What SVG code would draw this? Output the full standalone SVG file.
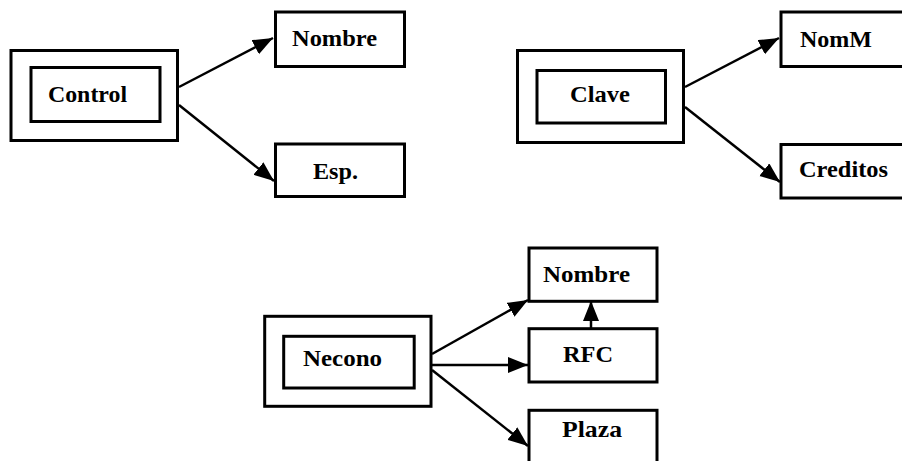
<svg xmlns="http://www.w3.org/2000/svg" width="902" height="461" viewBox="0 0 902 461">
<defs>
<style>
.box{fill:#fff;stroke:#000;stroke-width:3}
.ln{fill:none;stroke:#000;stroke-width:2.5}
.t{font-family:"Liberation Serif","Times New Roman",serif;font-size:24px;font-weight:bold;fill:#000}
</style>
<marker id="ah" markerUnits="userSpaceOnUse" markerWidth="22" markerHeight="18" refX="20" refY="8" orient="auto">
<path d="M0,0 L20,8 L0,16 z" fill="#000"/>
</marker>
</defs>
<rect width="902" height="461" fill="#fff"/>
<g id="connectors">
<line class="ln" x1="179" y1="87" x2="273" y2="38" marker-end="url(#ah)"/>
<line class="ln" x1="179" y1="105" x2="274" y2="181" marker-end="url(#ah)"/>
<line class="ln" x1="685" y1="87" x2="779" y2="38" marker-end="url(#ah)"/>
<line class="ln" x1="685" y1="107" x2="780" y2="182" marker-end="url(#ah)"/>
<line class="ln" x1="432" y1="354" x2="528" y2="300" marker-end="url(#ah)"/>
<line class="ln" x1="432" y1="365" x2="528" y2="365" marker-end="url(#ah)"/>
<line class="ln" x1="432" y1="370" x2="528" y2="446" marker-end="url(#ah)"/>
<line class="ln" x1="591" y1="328" x2="591" y2="301" marker-end="url(#ah)"/>
</g>
<g id="control">
<rect class="box" x="11" y="50.5" width="166.5" height="90"/>
<rect class="box" x="31" y="67.5" width="129" height="54"/>
<text class="t" x="48" y="102" textLength="79" lengthAdjust="spacingAndGlyphs">Control</text>
</g>
<g id="nombre1">
<rect class="box" x="275.5" y="12" width="129" height="54.5"/>
<text class="t" x="292" y="46" textLength="85" lengthAdjust="spacingAndGlyphs">Nombre</text>
</g>
<g id="esp">
<rect class="box" x="275.5" y="144" width="129" height="52.5"/>
<text class="t" x="313" y="179" textLength="45" lengthAdjust="spacingAndGlyphs">Esp.</text>
</g>
<g id="clave">
<rect class="box" x="517.5" y="50.5" width="166" height="92"/>
<rect class="box" x="537" y="70.5" width="128.5" height="52.5"/>
<text class="t" x="570" y="102" textLength="60" lengthAdjust="spacingAndGlyphs">Clave</text>
</g>
<g id="nomm">
<rect class="box" x="781" y="12" width="130" height="54.5"/>
<text class="t" x="800" y="47" textLength="72" lengthAdjust="spacingAndGlyphs">NomM</text>
</g>
<g id="creditos">
<rect class="box" x="781" y="144.5" width="130" height="53.5"/>
<text class="t" x="799" y="177" textLength="89" lengthAdjust="spacingAndGlyphs">Creditos</text>
</g>
<g id="necono">
<rect class="box" x="264.7" y="316.3" width="166.3" height="90"/>
<rect class="box" x="283.7" y="336.3" width="130.5" height="51.7"/>
<text class="t" x="303" y="366" textLength="79" lengthAdjust="spacingAndGlyphs">Necono</text>
</g>
<g id="nombre2">
<rect class="box" x="529" y="248" width="128" height="53.3"/>
<text class="t" x="543" y="282" textLength="87" lengthAdjust="spacingAndGlyphs">Nombre</text>
</g>
<g id="rfc">
<rect class="box" x="529" y="328.7" width="128" height="53.3"/>
<text class="t" x="563" y="362" textLength="50" lengthAdjust="spacingAndGlyphs">RFC</text>
</g>
<g id="plaza">
<rect class="box" x="529" y="410.3" width="128" height="60"/>
<text class="t" x="562" y="437" textLength="60" lengthAdjust="spacingAndGlyphs">Plaza</text>
</g>
</svg>
